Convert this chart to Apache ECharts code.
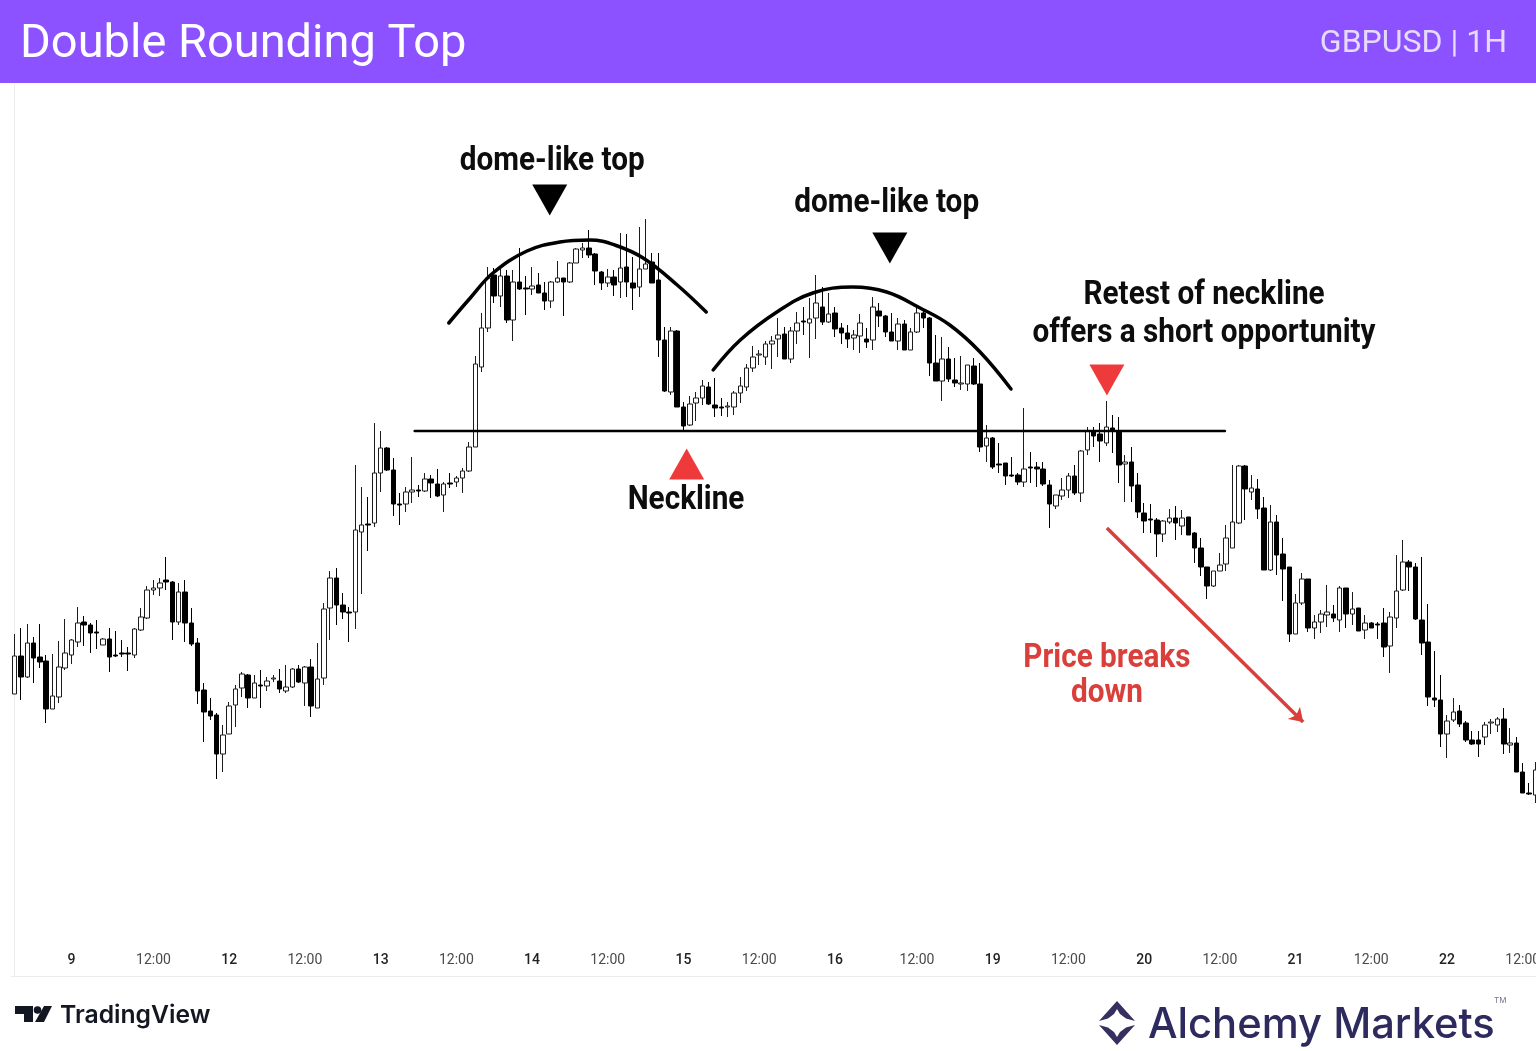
<!DOCTYPE html>
<html>
<head>
<meta charset="utf-8">
<title>Double Rounding Top</title>
<script src="https://cdn.jsdelivr.net/npm/echarts@6/dist/echarts.min.js"></script>
<style>
    html, body { margin: 0; padding: 0; background: #fff; }
    #chart { width: 1536px; height: 1051px; overflow: hidden; }
</style>
</head>
<body>
<div id="chart"></div>
<script>
// 1H candles, price in chart points
const opens = [
    306,344,323,357,343,339,291,303,332,345,358,378,375,368,355,361,345,347,347,345,370,382,410,412,420,418,378,408,377,357,310,289,285,246,266,295,312,325,302,315,314,321,319,309,313,331,317,333,292,322,
    392,422,395,388,388,468,476,477,527,552,530,496,496,508,510,509,521,516,505,517,518,522,529,553,633,672,725,704,724,680,718,712,711,715,707,699,718,722,718,737,750,752,746,728,717,723,718,733,717,713,
    731,738,720,660,608,669,593,575,597,602,613,595,593,593,593,607,613,632,645,643,656,661,666,641,669,679,677,682,693,678,687,672,667,662,664,661,660,689,684,668,659,676,650,668,687,682,637,619,641,620,
    616,616,634,616,554,562,536,537,525,525,518,533,533,531,515,494,504,510,524,507,550,568,566,557,572,569,536,538,515,487,481,480,466,478,482,474,483,467,452,433,414,429,436,452,477,534,508,511,492,430,
    478,446,433,366,397,421,372,378,385,386,380,412,386,392,370,377,376,377,354,382,410,438,433,380,358,302,300,266,280,289,277,260,260,263,277,275,281,255,257,228,207,205
];
const closes = [
    344,323,357,342,338,291,304,333,347,360,377,375,367,367,361,343,344,346,346,371,383,410,412,417,418,378,408,377,356,309,288,284,246,265,294,311,326,302,317,314,319,322,311,313,331,318,333,294,321,391,
    422,395,388,387,470,475,475,527,552,530,496,495,508,510,509,521,517,504,516,516,522,529,553,636,672,722,704,724,680,718,711,711,714,707,699,718,722,718,737,751,752,745,729,717,723,715,732,718,712,731,
    736,717,660,609,669,593,574,596,602,614,596,592,592,594,607,614,632,643,646,656,659,665,641,669,677,678,681,697,678,686,671,667,661,665,677,658,693,684,668,659,676,650,668,687,682,637,619,641,621,617,
    617,635,616,553,562,533,535,524,524,518,531,532,531,516,496,505,510,524,507,549,569,564,559,573,569,535,538,514,488,479,480,466,479,482,477,482,465,452,433,414,429,435,462,478,534,511,512,491,430,478,
    445,431,366,397,421,372,378,386,388,382,412,386,391,369,377,372,375,353,383,409,438,433,381,357,303,300,266,279,288,276,260,256,256,275,278,281,256,257,228,207,206,230
];
const lows = [
    306,300,322,317,332,277,291,297,330,336,353,354,347,351,355,328,343,343,329,342,369,381,405,404,410,360,375,358,354,296,258,280,221,228,266,273,303,292,302,292,309,318,307,307,312,317,294,283,292,315,
    360,375,381,358,371,406,449,473,508,529,484,475,488,497,503,508,502,503,488,512,513,507,528,553,628,668,697,693,677,659,710,685,705,707,690,692,717,684,717,737,742,742,715,710,713,704,702,703,690,703,
    731,717,643,608,605,593,570,574,579,595,595,583,584,583,585,597,609,628,635,635,631,643,641,637,656,665,642,661,675,677,663,656,652,650,647,652,650,673,663,659,650,650,650,667,672,624,619,599,618,613,
    610,609,615,548,538,531,527,515,523,515,513,517,513,514,472,491,500,502,505,498,545,553,538,554,547,517,498,498,482,467,467,443,458,476,460,465,465,437,424,401,413,429,429,452,476,480,500,481,430,429,
    425,399,358,366,395,368,361,367,373,378,368,372,375,369,361,372,361,343,327,372,409,409,380,345,294,293,253,242,278,273,258,255,243,255,266,268,246,247,228,207,205,197
];
const highs = [
    366,372,376,363,376,345,346,359,381,361,393,384,377,380,362,372,369,360,353,372,392,414,420,422,443,419,417,420,392,362,317,302,287,275,298,315,328,326,325,330,323,325,331,335,332,335,334,341,357,397,
    429,432,407,393,535,513,503,577,569,553,542,507,513,543,515,527,525,531,518,527,524,532,558,644,687,733,732,732,730,730,752,724,733,727,718,719,739,722,738,752,757,770,747,729,731,730,767,766,743,773,
    781,747,747,673,673,670,598,604,608,620,618,622,602,598,609,623,636,654,650,659,664,682,673,673,688,693,702,725,713,707,693,677,675,670,686,672,703,697,685,687,682,680,672,694,690,683,665,663,653,642,
    644,635,642,637,575,563,557,537,543,527,592,548,538,538,520,505,522,527,535,550,573,573,577,599,585,583,545,553,527,497,496,482,480,491,494,490,483,468,462,433,429,447,475,535,535,535,525,521,503,495,
    485,462,433,406,427,421,385,390,415,395,414,412,408,392,385,378,378,392,388,445,460,440,437,443,396,349,325,285,302,295,279,269,269,278,281,283,292,272,263,237,217,238
];

// time axis, only these candles carry a label
const tickIndex = [9, 22, 34, 46, 58, 70, 82, 94, 106, 118, 130, 143, 155, 167, 179, 191, 203, 215, 227, 239];
const tickLabels = ['9', '12:00', '12', '12:00', '13', '12:00', '14', '12:00', '15', '12:00', '16', '12:00', '19', '12:00', '20', '12:00', '21', '12:00', '22', '12:00'];

// drawn annotations, x in candle positions and y in chart points
const domeOneX = [68.8, 72.2, 75.8, 81.2, 86.4, 91.2, 95.1, 99.6, 105, 109.6];
const domeOneY = [677, 702, 727, 749, 758, 760, 755, 742, 715, 688];
const domeTwoX = [110.7, 115, 120.8, 126.5, 132.8, 138.2, 143.5, 148.2, 153, 157.9];
const domeTwoY = [630, 660, 688, 707, 713, 708, 692, 675, 648, 611];
const necklineX = [63.4, 191.8];
const necklineY = [569, 569];
const breakArrowX = [173.1, 204.2];
const breakArrowY = [472, 278];

const markerX = [84.8, 138.7, 173.1, 106.5];
const markerY = [800, 752, 620, 536];
const markerRotate = [180, 180, 180, 0];
const markerColor = ['#000000', '#000000', '#ee3a3a', '#ee3a3a'];

const noteX = [85.2, 138.2, 188.5, 188.5, 106.4, 173.1, 173.1];
const noteY = [838, 796, 704, 666, 499, 341, 306];
const noteText = ['dome-like top', 'dome-like top', 'Retest of neckline', 'offers a short opportunity', 'Neckline', 'Price breaks', 'down'];
const noteColor = ['#0d0d0d', '#0d0d0d', '#0d0d0d', '#0d0d0d', '#0d0d0d', '#d9403c', '#d9403c'];

const candleData = opens.map((open, i) => [open, closes[i], lows[i], highs[i]]);
const candleSlots = opens.map((_, i) => {
    const at = tickIndex.indexOf(i);
    return at >= 0 ? tickLabels[at] : '';
});

function pairs(xs, ys) {
    return xs.map((x, i) => [x, ys[i]]);
}

function annotationLine(name, data, color, width, smooth) {
    return {
        name: name,
        type: 'line',
        xAxisIndex: 1,
        data: data,
        smooth: smooth,
        symbol: 'none',
        silent: true,
        clip: false,
        z: 5,
        lineStyle: { color: color, width: width, cap: 'round' }
    };
}

// the reference uses a condensed face, so squeeze Roboto bold a little
function renderNote(params, api) {
    const point = api.coord([api.value(0), api.value(1)]);
    return {
        type: 'text',
        x: point[0],
        y: point[1],
        scaleX: 0.9,
        style: {
            text: noteText[params.dataIndex],
            fontFamily: 'Roboto',
            fontWeight: 'bold',
            fontSize: 33,
            fill: noteColor[params.dataIndex],
            align: 'center',
            verticalAlign: 'middle'
        }
    };
}

const myChart = echarts.init(document.getElementById('chart'), null, { renderer: 'canvas' });
const option = {
    animation: false,
    backgroundColor: '#ffffff',
    grid: { left: 11.5, top: 84, width: 1527, height: 892, outerBoundsMode: 'none' },
    xAxis: [
        {
            type: 'category',
            data: candleSlots,
            axisLine: { show: true, lineStyle: { color: '#ececec', width: 1 } },
            axisTick: { show: false },
            splitLine: { show: false },
            axisLabel: {
                inside: true,
                margin: 9,
                interval: (index) => tickIndex.includes(index),
                formatter: (value) => (value.includes(':') ? '{hour|' + value + '}' : '{day|' + value + '}'),
                rich: {
                    hour: { fontFamily: 'Roboto', fontSize: 14, color: '#4a4a4a' },
                    day: { fontFamily: 'Roboto', fontSize: 14, fontWeight: 500, color: '#222222' }
                }
            }
        },
        // overlay axis on the same grid for the hand drawn annotations
        { type: 'value', min: -0.5, max: 241.5, show: false }
    ],
    yAxis: {
        type: 'value',
        min: 24,
        max: 916,
        axisLine: { show: true, lineStyle: { color: '#ececec', width: 1 } },
        axisTick: { show: false },
        axisLabel: { show: false },
        splitLine: { show: false }
    },
    series: [
        {
            name: 'GBPUSD',
            type: 'candlestick',
            data: candleData,
            barWidth: 5,
            itemStyle: {
                color: '#ffffff',
                color0: '#000000',
                borderColor: '#1c1c1c',
                borderColor0: '#000000',
                borderWidth: 1
            }
        },
        annotationLine('Dome one', pairs(domeOneX, domeOneY), '#000000', 3.5, 0.4),
        annotationLine('Dome two', pairs(domeTwoX, domeTwoY), '#000000', 3.5, 0.4),
        annotationLine('Neckline', pairs(necklineX, necklineY), '#000000', 2.5, false),
        {
            name: 'Markers',
            type: 'scatter',
            xAxisIndex: 1,
            symbol: 'triangle',
            symbolSize: [35, 31],
            silent: true,
            z: 6,
            data: markerX.map((x, i) => ({
                value: [x, markerY[i]],
                symbolRotate: markerRotate[i],
                itemStyle: { color: markerColor[i], opacity: 1 }
            })),
            // breakdown arrow
            markLine: {
                silent: true,
                animation: false,
                symbol: ['none', 'arrow'],
                symbolSize: 13,
                label: { show: false },
                lineStyle: { color: '#d9403c', width: 3.5, type: 'solid' },
                data: [[
                    { coord: [breakArrowX[0], breakArrowY[0]] },
                    { coord: [breakArrowX[1], breakArrowY[1]] }
                ]]
            }
        },
        {
            name: 'Notes',
            type: 'custom',
            xAxisIndex: 1,
            silent: true,
            z: 7,
            clip: false,
            renderItem: renderNote,
            data: pairs(noteX, noteY)
        }
    ],
    // header band and footer branding
    graphic: [
        { type: 'rect', z: 10, shape: { x: 0, y: 0, width: 1536, height: 83 }, style: { fill: '#8c52ff' } },
        { type: 'text', z: 11, x: 20, y: 45, style: { text: 'Double Rounding Top', fontFamily: 'Roboto', fontSize: 47, fontWeight: 400, fill: '#ffffff', verticalAlign: 'middle' } },
        { type: 'text', z: 11, x: 1507, y: 44, style: { text: 'GBPUSD | 1H', fontFamily: 'Roboto', fontSize: 32, fontWeight: 400, fill: '#e6dbff', align: 'right', verticalAlign: 'middle' } },
        { type: 'polygon', z: 11, shape: { points: [[15, 1006], [33, 1006], [33, 1022], [24, 1022], [24, 1014], [15, 1014]] }, style: { fill: '#131722' } },
        { type: 'circle', z: 11, shape: { cx: 37.5, cy: 1010, r: 3.8 }, style: { fill: '#131722' } },
        { type: 'polygon', z: 11, shape: { points: [[44, 1006], [52, 1006], [44, 1022], [35, 1022]] }, style: { fill: '#131722' } },
        { type: 'text', z: 11, x: 60, y: 1016, style: { text: 'TradingView', fontFamily: 'Inter', fontSize: 24.7, fontWeight: 600, fill: '#131722', verticalAlign: 'middle' } },
        { type: 'polygon', z: 11, shape: { points: [[1117, 1001], [1135, 1021], [1126, 1018.5], [1120, 1014], [1117, 1009], [1114, 1014], [1108, 1018.5], [1099, 1021]] }, style: { fill: '#35305f' } },
        { type: 'polygon', z: 11, shape: { points: [[1117, 1045], [1135, 1025], [1126, 1027.5], [1120, 1032], [1117, 1037], [1114, 1032], [1108, 1027.5], [1099, 1025]] }, style: { fill: '#35305f' } },
        { type: 'text', z: 11, x: 1148, y: 1025, style: { text: 'Alchemy Markets', fontFamily: 'Inter', fontSize: 41.7, fontWeight: 500, fill: '#2d2a5e', verticalAlign: 'middle' } },
        { type: 'text', z: 11, x: 1494, y: 1001, style: { text: 'TM', fontFamily: 'Inter', fontSize: 8, fill: '#77758f', verticalAlign: 'middle' } }
    ]
};
myChart.setOption(option);
</script>
</body>
</html>
